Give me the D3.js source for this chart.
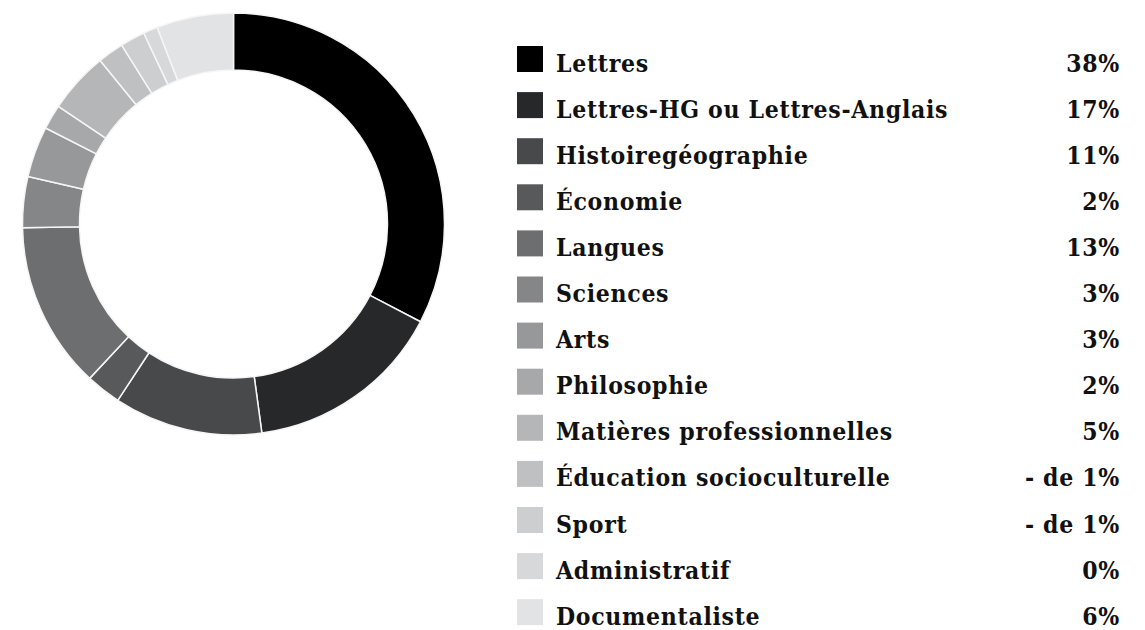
<!DOCTYPE html>
<html>
<head>
<meta charset="utf-8">
<script src="https://cdn.jsdelivr.net/npm/d3@7"></script>
<style>
  html, body { margin: 0; padding: 0; background: #fff; }
  svg { display: block; }
  text { font-family: "DejaVu Serif", serif; font-weight: bold; font-stretch: condensed; fill: #111; }
</style>
</head>
<body>
<svg id="chart" width="1145" height="630"></svg>
<script>
// Categories (legend order = slice order, clockwise from top)
const categories = [
  "Lettres", "Lettres-HG ou Lettres-Anglais", "Histoiregéographie", "Économie",
  "Langues", "Sciences", "Arts", "Philosophie", "Matières professionnelles",
  "Éducation socioculturelle", "Sport", "Administratif", "Documentaliste"
];
// Slice sizes as drawn in the reference (percent of the ring)
const sliceValues = [32.7, 15.2, 11.4, 2.7, 12.8, 3.9, 3.9, 1.9, 4.7, 2.0, 1.9, 1.1, 5.9];
// Percent labels shown in the legend
const percentLabels = ["38%", "17%", "11%", "2%", "13%", "3%", "3%", "2%", "5%", "- de 1%", "- de 1%", "0%", "6%"];
const colors = ["#000000", "#27282a", "#48494b", "#58595b", "#6d6e70", "#858688", "#979899",
                "#a7a8aa", "#b5b6b8", "#bfc0c2", "#cdced0", "#d7d8da", "#e2e3e4"];

const svg = d3.select("#chart");
const cx = 233.5, cy = 224, rOuter = 211, rInner = 154;

const color = d3.scaleOrdinal().domain(categories).range(colors);
const pie = d3.pie().sort(null).value(d => d.v);
const arc = d3.arc().innerRadius(rInner).outerRadius(rOuter);
const data = categories.map((c, i) => ({ c, v: sliceValues[i] }));

svg.append("g").attr("transform", `translate(${cx},${cy})`)
  .selectAll("path").data(pie(data)).join("path")
  .attr("d", arc)
  .attr("fill", d => color(d.data.c))
  .attr("stroke", "#f6f6f6")
  .attr("stroke-width", 1.5)
  .attr("stroke-linejoin", "round");

// Legend
const y = d3.scaleBand().domain(categories).range([46, 46 + 46.1 * 13]).paddingInner(0);
const leg = svg.append("g");
const rows = leg.selectAll("g").data(categories).join("g")
  .attr("transform", c => `translate(0,${y(c)})`);
rows.append("rect").attr("x", 517).attr("y", 0).attr("width", 26).attr("height", 26)
  .attr("fill", c => color(c));
rows.append("text").attr("x", 556).attr("y", 25.5).attr("font-size", 24.5)
  .attr("letter-spacing", 0.7).text(c => c);
rows.append("text").attr("x", 1120).attr("y", 25.5).attr("font-size", 24.5)
  .attr("letter-spacing", 0.7)
  .attr("text-anchor", "end").text((c, i) => percentLabels[i]);
</script>
</body>
</html>
